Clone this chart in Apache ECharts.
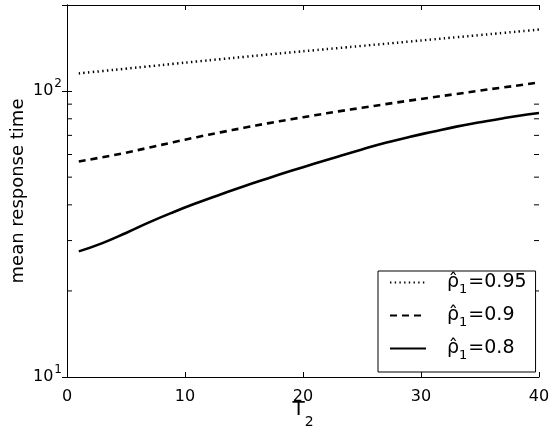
<!DOCTYPE html>
<html>
<head>
<meta charset="utf-8">
<script src="https://cdn.jsdelivr.net/npm/echarts@6/dist/echarts.min.js"></script>
<style>
html,body{margin:0;padding:0;background:#fff;}
#c{width:556px;height:429px;}
</style>
</head>
<body>
<div id="c"></div>
<script>
const xValues = [1, 3, 5, 7, 9, 11, 13, 15, 17, 19, 21, 23, 25, 27, 29, 31, 33, 35, 37, 39, 40];
const rho095 = [115.3, 117.5, 119.8, 122.1, 124.5, 126.9, 129.3, 131.7, 134.2, 136.6, 139.0, 141.4, 143.9, 146.4, 149.0, 151.6, 154.3, 157.0, 159.8, 162.6, 164.1];
const rho09 = [56.7, 58.7, 60.9, 63.5, 66.2, 69.0, 71.7, 74.4, 77.1, 79.7, 82.3, 84.9, 87.4, 90.0, 92.6, 95.1, 97.7, 100.4, 103.0, 105.7, 107.3];
const rho08 = [27.5, 29.4, 31.9, 34.8, 37.7, 40.6, 43.5, 46.5, 49.5, 52.6, 55.8, 59.1, 62.5, 65.9, 69.1, 72.1, 75.1, 77.8, 80.4, 82.8, 83.8];
const seriesLabels = ['0.95', '0.9', '0.8'];
const xTicks = [0, 10, 20, 30, 40];
const yMajor = [10, 100];
const yMinor = [20, 30, 40, 50, 60, 70, 80, 90];

const FONT = 'DejaVu Sans, Verdana, sans-serif';
const names = seriesLabels.map(v => 'rho' + v);
const pairs = arr => xValues.map((x, i) => [x, arr[i]]);

const chart = echarts.init(document.getElementById('c'));

const axisCommon = {
  axisLine: {show: true, lineStyle: {color: '#000', width: 1}},
  axisTick: {show: true, inside: true, length: 5, lineStyle: {color: '#000', width: 1}},
  splitLine: {show: false}
};

chart.setOption({
  animation: false,
  backgroundColor: '#fff',
  textStyle: {fontFamily: FONT, color: '#000'},
  grid: {left: 67, top: 5, right: 17, bottom: 52, containLabel: false, outerBoundsMode: 'none'},
  xAxis: [
    Object.assign({
      type: 'value', min: xTicks[0], max: xTicks[xTicks.length - 1], interval: xTicks[1] - xTicks[0], position: 'bottom',
      name: '{t|T}{s|2}', nameLocation: 'middle', nameGap: 23, nameMoveOverlap: false,
      nameTextStyle: {rich: {
        t: {fontSize: 20, fontFamily: FONT, color: '#000', verticalAlign: 'top', lineHeight: 20},
        s: {fontSize: 14, fontFamily: FONT, color: '#000', verticalAlign: 'top', lineHeight: 14, padding: [15, 0, 0, 0]}
      }},
      axisLabel: {fontSize: 16, fontFamily: FONT, color: '#000', margin: 12}
    }, axisCommon),
    Object.assign({
      type: 'value', min: xTicks[0], max: xTicks[xTicks.length - 1], interval: xTicks[1] - xTicks[0], position: 'top',
      axisLabel: {show: false}
    }, axisCommon)
  ],
  yAxis: [
    Object.assign({
      type: 'log', logBase: 10, min: 10, max: 200, position: 'left',
      name: 'mean response time', nameLocation: 'middle', nameGap: 40, nameRotate: 90, nameMoveOverlap: false,
      nameTextStyle: {fontSize: 18, fontFamily: FONT, color: '#000'},
      axisLabel: {
        margin: 5,
        formatter: v => {
          const i = yMajor.indexOf(Math.round(v));
          if (i < 0) return '';
          return '{b|10}{p|' + Math.round(Math.log10(v)) + '}';
        },
        rich: {
          b: {fontSize: 16, fontFamily: FONT, color: '#000', verticalAlign: 'bottom', lineHeight: 16},
          p: {fontSize: 12, fontFamily: FONT, color: '#000', verticalAlign: 'bottom', lineHeight: 12, padding: [0, 0, 9, 1]}
        }
      }
    }, axisCommon),
    Object.assign({
      type: 'log', logBase: 10, min: 10, max: 200, position: 'right',
      axisLabel: {show: false}
    }, axisCommon)
  ],
  legend: {
    data: names,
    orient: 'vertical',
    left: 378, top: 271,
    backgroundColor: '#fff',
    borderColor: '#000', borderWidth: 1, borderRadius: 0,
    padding: [2, 9, 0, 11],
    itemWidth: 36, itemHeight: 14, itemGap: 0,
    itemStyle: {opacity: 0},
    formatter: n => {
      const v = n.replace('rho', '');
      return '{r|ρ\u0302}{u|1}{t|=' + v + '}';
    },
    textStyle: {
      fontFamily: FONT, color: '#000', padding: [0, 0, 0, 16],
      rich: {
        r: {fontSize: 19, fontFamily: FONT, color: '#000', verticalAlign: 'top', lineHeight: 19},
        u: {fontSize: 13, fontFamily: FONT, color: '#000', verticalAlign: 'top', lineHeight: 13, padding: [10, 1, 10, 0]},
        t: {fontSize: 19, fontFamily: FONT, color: '#000', verticalAlign: 'top', lineHeight: 19}
      }
    }
  },
  series: [
    {
      name: names[0], type: 'line', data: pairs(rho095), symbol: 'none', smooth: true,
      itemStyle: {color: '#000'},
      lineStyle: {color: '#000', width: 2.5, type: [1.4, 3.3]}
    },
    {
      name: names[1], type: 'line', data: pairs(rho09), symbol: 'none', smooth: true,
      itemStyle: {color: '#000'},
      lineStyle: {color: '#000', width: 2.6, type: [7, 5]}
    },
    {
      name: names[2], type: 'line', data: pairs(rho08), symbol: 'none', smooth: true,
      itemStyle: {color: '#000'},
      lineStyle: {color: '#000', width: 2.6, type: 'solid'}
    },
    {
      name: 'minorTicks', type: 'custom', silent: true, clip: false,
      data: yMinor.map(v => [0, v]),
      renderItem: (params, api) => {
        const y = api.coord([api.value(0), api.value(1)])[1];
        const cs = params.coordSys;
        return {
          type: 'group',
          children: [
            {type: 'line', shape: {x1: cs.x, y1: y, x2: cs.x + 5, y2: y}, style: {stroke: '#000', lineWidth: 1}},
            {type: 'line', shape: {x1: cs.x + cs.width - 5, y1: y, x2: cs.x + cs.width, y2: y}, style: {stroke: '#000', lineWidth: 1}}
          ]
        };
      }
    }
  ]
});
</script>
</body>
</html>
